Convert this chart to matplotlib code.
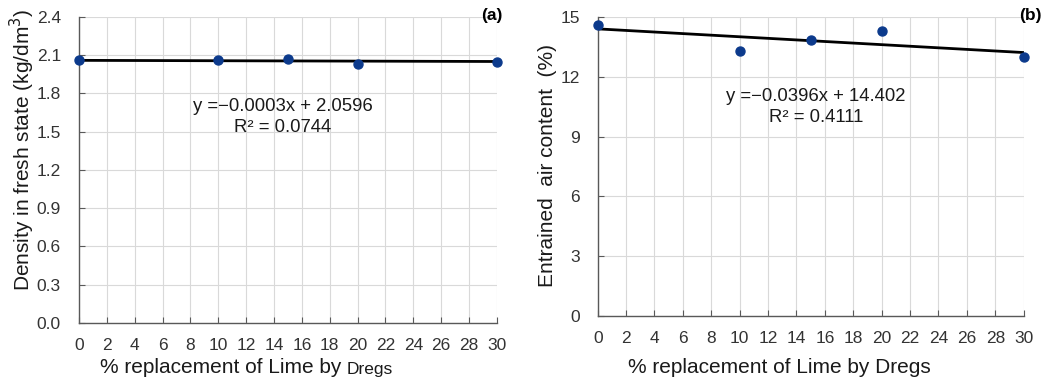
import matplotlib.pyplot as plt
import numpy as np

plt.rcParams['font.family'] = ['Liberation Sans', 'DejaVu Sans']

replacement = [0, 10, 15, 20, 30]
density = [2.06, 2.06, 2.07, 2.03, 2.05]
air = [14.6, 13.3, 13.85, 14.3, 13.0]

density_fit = (-0.0003, 2.0596)
air_fit = (-0.0396, 14.402)

xticks = list(range(0, 31, 2))
density_ticks = [0.0, 0.3, 0.6, 0.9, 1.2, 1.5, 1.8, 2.1, 2.4]
air_ticks = [0, 3, 6, 9, 12, 15]

dot_color = '#0c3a8c'
txt = '#1a1a1a'
fs = 12.5

fig = plt.figure(figsize=(10.56, 3.85), dpi=100)
ax1 = fig.add_axes([0.0748, 0.161, 0.3958, 0.795])
ax2 = fig.add_axes([0.566, 0.179, 0.4034, 0.777])


def style(ax, yticks, fmt):
    ax.set_xlim(0, 30)
    ax.set_ylim(yticks[0], yticks[-1])
    ax.set_xticks(xticks)
    ax.set_yticks(yticks)
    ax.set_yticklabels([fmt.format(t) for t in yticks])
    ax.grid(True, color='#d9d9d9', linewidth=0.8)
    ax.set_axisbelow(True)
    for s in ['top', 'right']:
        ax.spines[s].set_visible(False)
    for s in ['left', 'bottom']:
        ax.spines[s].set_color('#595959')
        ax.spines[s].set_linewidth(1.0)
    ax.tick_params(direction='in', length=4, color='#595959', labelsize=fs,
                   labelcolor='#333333')
    ax.tick_params(axis='x', pad=11)
    ax.tick_params(axis='y', pad=13)


def trend(ax, x, y, fit):
    xs = np.array([0, 30])
    ax.plot(xs, fit[0] * xs + fit[1], color='black', linewidth=2, zorder=2)
    ax.scatter(x, y, s=42, color=dot_color, zorder=3, clip_on=False)


style(ax1, density_ticks, '{:.1f}')
trend(ax1, replacement, density, density_fit)
ax1.text(-0.135, 0.565, 'Density in fresh state (kg/dm$^3$)', transform=ax1.transAxes,
         rotation=90, ha='center', va='center', fontsize=15, color=txt)
t = ax1.text(0.05, -0.163, '% replacement of Lime by ', transform=ax1.transAxes,
             ha='left', va='baseline', fontsize=15, color=txt)
ax1.annotate('Dregs', xy=(1, 0), xycoords=t, va='bottom', ha='left',
             fontsize=12.5, color=txt)
ax1.text(0.488, 0.673, 'y =\u22120.0003x + 2.0596\nR\u00b2 = 0.0744', transform=ax1.transAxes,
         ha='center', va='center', fontsize=13.3, color=txt, linespacing=1.25)
ax1.text(1.014, 1.005, '(a)', transform=ax1.transAxes, ha='right', va='center',
         fontsize=12.5, fontweight='bold')

style(ax2, air_ticks, '{:d}')
trend(ax2, replacement, air, air_fit)
ax2.text(-0.117, 0.505, 'Entrained  air content  (%)', transform=ax2.transAxes,
         rotation=90, ha='center', va='center', fontsize=15, color=txt)
ax2.text(0.427, -0.19, '% replacement of Lime by Dregs', transform=ax2.transAxes,
         ha='center', va='baseline', fontsize=15, color=txt)
ax2.text(0.512, 0.699, 'y =\u22120.0396x + 14.402\nR\u00b2 = 0.4111', transform=ax2.transAxes,
         ha='center', va='center', fontsize=13.3, color=txt, linespacing=1.25)
ax2.text(1.042, 1.005, '(b)', transform=ax2.transAxes, ha='right', va='center',
         fontsize=12.5, fontweight='bold')

fig.savefig('out.png', dpi=100)
